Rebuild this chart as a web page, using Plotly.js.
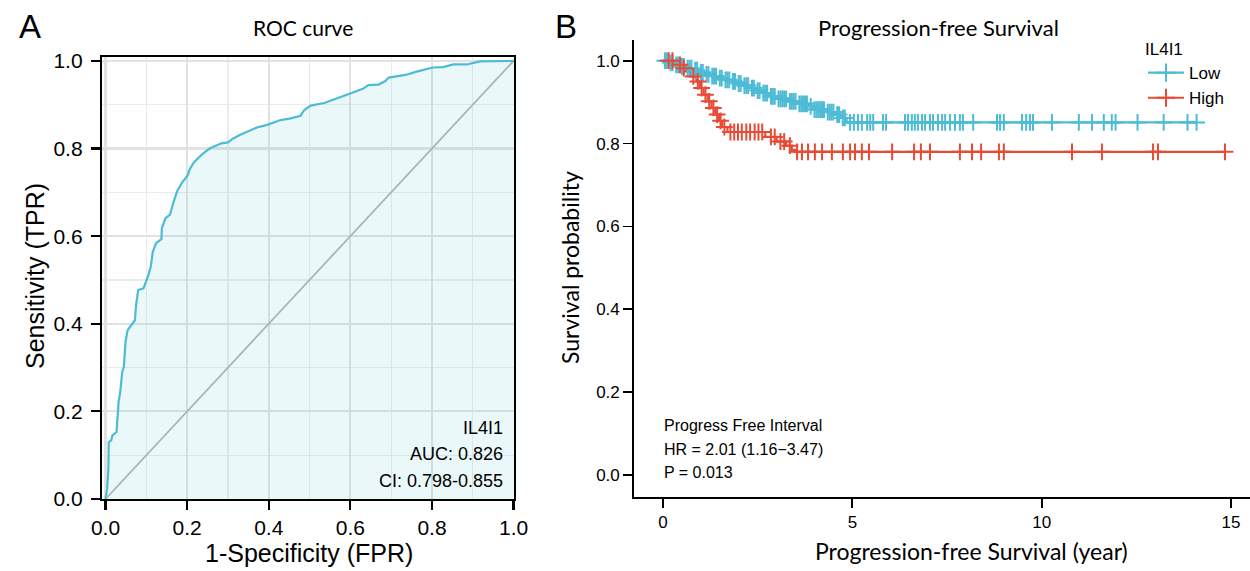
<!DOCTYPE html>
<html>
<head>
<meta charset="utf-8">
<script src="https://cdn.plot.ly/plotly-3.0.1.min.js"></script>
<style>html,body{margin:0;padding:0;background:#fff;}#chart{width:1250px;height:571px;}</style>
</head>
<body>
<div id="chart"></div>
<script>
// ---------- ROC data ----------
const rocFPR = [0,0.004,0.007,0.008,0.014,0.017,0.027,0.029,0.032,0.036,0.041,0.045,0.049,0.054,0.064,0.072,0.075,0.080,0.093,0.099,0.105,0.111,0.116,0.124,0.137,0.138,0.147,0.158,0.163,0.167,0.176,0.188,0.201,0.207,0.217,0.230,0.238,0.255,0.271,0.284,0.300,0.313,0.329,0.354,0.371,0.396,0.429,0.454,0.478,0.487,0.503,0.536,0.570,0.603,0.632,0.644,0.669,0.686,0.694,0.711,0.735,0.760,0.802,0.827,0.852,0.885,0.918,1];
const rocTPR = [0,0.023,0.069,0.130,0.134,0.145,0.153,0.183,0.221,0.244,0.290,0.302,0.359,0.385,0.397,0.408,0.443,0.477,0.481,0.496,0.511,0.531,0.565,0.584,0.593,0.618,0.641,0.649,0.668,0.679,0.704,0.723,0.738,0.754,0.769,0.781,0.788,0.800,0.806,0.812,0.814,0.823,0.831,0.842,0.848,0.854,0.865,0.869,0.875,0.888,0.898,0.904,0.915,0.927,0.937,0.945,0.946,0.954,0.962,0.965,0.968,0.975,0.985,0.986,0.992,0.992,0.999,1];
const rocTicks = [0, 0.2, 0.4, 0.6, 0.8, 1.0];
const rocLabels = ["IL4I1", "AUC: 0.826", "CI: 0.798-0.855"];

// ---------- Kaplan-Meier data ----------
const lowTimes = [0,0.15,0.3,0.45,0.6,0.8,0.95,1.1,1.25,1.45,1.6,1.8,1.95,2.1,2.3,2.45,2.6,2.8,3.0,3.3,3.55,3.85,3.95,4.3,4.55,4.7,4.85];
const lowSurv  = [1.0,0.995,0.99,0.986,0.982,0.977,0.972,0.967,0.963,0.958,0.954,0.95,0.945,0.94,0.934,0.928,0.922,0.914,0.908,0.902,0.896,0.89,0.882,0.876,0.87,0.862,0.851];
const lowCensor = [0.05,0.1,0.2,0.25,0.35,0.4,0.5,0.55,0.65,0.7,0.75,0.85,0.9,1.0,1.05,1.15,1.2,1.3,1.35,1.4,1.5,1.55,1.65,1.7,1.75,1.85,1.9,2.0,2.05,2.15,2.2,2.25,2.35,2.4,2.5,2.55,2.65,2.7,2.75,2.85,2.9,2.95,3.05,3.1,3.15,3.2,3.25,3.35,3.4,3.45,3.5,3.6,3.65,3.7,3.75,3.8,3.9,4.0,4.05,4.1,4.15,4.2,4.25,4.35,4.4,4.45,4.5,4.6,4.65,4.75,4.8,4.94,5.04,5.15,5.25,5.39,5.47,5.55,5.81,5.89,6.39,6.47,6.57,6.65,6.73,6.84,6.92,7.05,7.13,7.26,7.37,7.45,7.58,7.71,7.84,7.92,8.19,8.82,8.90,9.00,9.48,9.59,9.69,9.77,10.27,10.98,11.33,11.64,11.85,11.95,12.53,13.22,13.85,14.09];
const highTimes = [0,0.35,0.5,0.6,0.72,0.88,0.98,1.07,1.18,1.28,1.38,1.48,1.56,1.7,2.7,3.0,3.25,3.4,3.5];
const highSurv  = [1.0,0.99,0.982,0.974,0.962,0.95,0.934,0.918,0.902,0.886,0.87,0.855,0.84,0.828,0.816,0.805,0.795,0.785,0.78];
const highCensor = [0.15,0.25,0.45,0.55,0.8,0.92,1.02,1.12,1.22,1.33,1.43,1.52,1.62,1.78,1.88,1.98,2.08,2.2,2.3,2.42,2.52,2.62,2.85,2.95,3.1,3.2,3.35,3.54,3.67,3.83,4.01,4.20,4.46,4.75,4.94,5.07,5.25,5.44,6.05,6.63,6.81,7.05,7.84,8.16,8.40,8.87,9.00,10.80,11.59,12.94,13.07,14.84];
const groupNames = ["Low", "High"];
const kmLabels = ["Progress Free Interval", "HR = 2.01 (1.16\u22123.47)", "P = 0.013"];

// ---------- helpers ----------
const W = 1250, H = 571;
const px = x => x / W;
const py = y => 1 - y / H;
const LOW_C = "#4DBBD5", HIGH_C = "#E64B35";
const ARIAL = "Liberation Sans, Arial, sans-serif";
const CAL = "Lato, Open Sans, sans-serif";

function survAt(times, surv, t) {
  let s = surv[0];
  for (let i = 0; i < times.length; i++) { if (times[i] <= t) s = surv[i]; }
  return s;
}
function kmLine(times, surv, censor, color) {
  const end = Math.max(times[times.length - 1], censor[censor.length - 1]);
  return {
    x: times.concat([end]), y: surv.concat([surv[surv.length - 1]]),
    xaxis: "x2", yaxis: "y2", mode: "lines", line: {shape: "hv", color: color, width: 2.2},
    showlegend: false, hoverinfo: "skip"
  };
}
function kmCensor(times, surv, censor, color) {
  return {
    x: censor, y: censor.map(t => survAt(times, surv, t)),
    xaxis: "x2", yaxis: "y2", mode: "markers",
    marker: {symbol: "cross-thin", size: 12, color: color, line: {color: color, width: 2}},
    showlegend: false, hoverinfo: "skip"
  };
}
function legendItem(name, color) {
  return {
    x: [null], y: [null], xaxis: "x2", yaxis: "y2", name: name, mode: "lines+markers",
    line: {color: color, width: 2.2},
    marker: {symbol: "cross-thin", size: 13, color: color, line: {color: color, width: 2}},
    showlegend: true
  };
}

const traces = [
  {x: [0, 1], y: [0, 1], mode: "lines", line: {color: "#b3b3b3", width: 1.7}, showlegend: false, hoverinfo: "skip"},
  {x: rocFPR, y: rocTPR, mode: "lines", fill: "tozeroy", fillcolor: "rgba(77,187,213,0.11)",
   line: {color: LOW_C, width: 2.2}, showlegend: false},
  kmLine(lowTimes, lowSurv, lowCensor, LOW_C),
  kmLine(highTimes, highSurv, highCensor, HIGH_C),
  kmCensor(lowTimes, lowSurv, lowCensor, LOW_C),
  kmCensor(highTimes, highSurv, highCensor, HIGH_C),
  legendItem(groupNames[0], LOW_C),
  legendItem(groupNames[1], HIGH_C)
];

const ann = [];
function addText(text, x, y, size, family, opts) {
  ann.push(Object.assign({text: text, x: px(x), y: py(y), xref: "paper", yref: "paper",
    showarrow: false, xanchor: "center", yanchor: "middle", font: {size: size, family: family, color: "#000"}}, opts || {}));
}
addText("A", 30, 26, 33, ARIAL);
addText("B", 566, 26, 33, ARIAL);
addText("ROC curve", 303, 28, 21, CAL);
addText("Progression-free Survival", 938, 28, 22, CAL);
addText("Sensitivity (TPR)", 35, 276, 25, ARIAL, {textangle: -90});
addText("1-Specificity (FPR)", 309, 553, 25, ARIAL);
addText("Survival probability", 570, 268, 23, CAL, {textangle: -90});
addText("Progression-free Survival (year)", 971, 551, 23, CAL);
[428, 454, 481].forEach((y, i) => addText(rocLabels[i], 505, y, 18, ARIAL, {xanchor: "right"}));
[425, 449, 472].forEach((y, i) => addText(kmLabels[i], 662, y, 16, ARIAL, {xanchor: "left"}));

const rocAxisCommon = {
  showline: true, linecolor: "#000", linewidth: 2.2, mirror: true,
  ticks: "outside", ticklen: 9, tickwidth: 2.2, tickcolor: "#000",
  tickfont: {size: 21, family: ARIAL, color: "#000"}, tickformat: ".1f",
  tickmode: "array", tickvals: rocTicks,
  showgrid: true, gridcolor: "#e2e2e2", gridwidth: 2.2,
  minor: {dtick: 0.1, tick0: 0, showgrid: true, gridcolor: "#ebebeb", gridwidth: 1.3},
  zeroline: false, fixedrange: true
};
const kmAxisCommon = {
  showline: true, linecolor: "#000", linewidth: 1.8, mirror: false,
  ticks: "outside", ticklen: 9, tickwidth: 1.8, tickcolor: "#000",
  tickfont: {size: 17, family: ARIAL, color: "#000"}, showgrid: false, zeroline: false, fixedrange: true
};

const layout = {
  width: W, height: H, margin: {l: 0, r: 0, t: 0, b: 0},
  paper_bgcolor: "#fff", plot_bgcolor: "rgba(0,0,0,0)",
  xaxis: Object.assign({}, rocAxisCommon, {domain: [px(102), px(514)], range: [-0.0086, 1.001], anchor: "y"}),
  yaxis: Object.assign({}, rocAxisCommon, {domain: [py(499), py(57)], range: [0, 1.009], anchor: "x", ticklabelstandoff: 4}),
  xaxis2: Object.assign({}, kmAxisCommon, {domain: [px(634), 1], range: [-0.766, 15.5], dtick: 5, tick0: 0, anchor: "y2"}),
  yaxis2: Object.assign({}, kmAxisCommon, {domain: [py(497), py(40)], range: [-0.053, 1.05], dtick: 0.2, tick0: 0, tickformat: ".1f", anchor: "x2"}),
  showlegend: true,
  legend: {x: px(1143), y: py(33), xanchor: "left", yanchor: "top", bgcolor: "rgba(0,0,0,0)",
    font: {size: 17, family: ARIAL, color: "#000"},
    title: {text: "IL4I1", font: {size: 17, family: ARIAL, color: "#000"}},
    itemwidth: 36, tracegroupgap: 0},
  annotations: ann
};

Plotly.newPlot("chart", traces, layout, {displayModeBar: false, staticPlot: true});
</script>
</body>
</html>
